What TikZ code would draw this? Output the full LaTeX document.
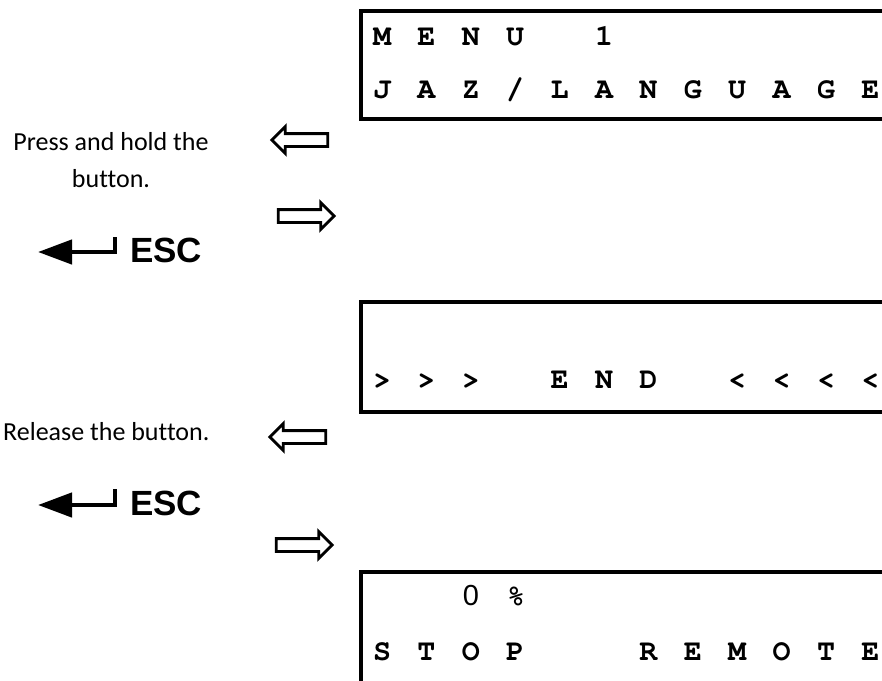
\documentclass[tikz,border=0pt]{standalone}
\usepackage{fontspec}
\setmainfont{Carlito}[Ligatures=NoCommon]
\newfontfamily\lcdfont{TeX Gyre Cursor}
\newfontfamily\keyfont{Liberation Sans}
\usetikzlibrary{shapes.arrows,arrows.meta}

\tikzset{
  lcd/.style={anchor=base,inner sep=0pt,font=\lcdfont\bfseries\fontsize{30}{30}\selectfont},
  frame/.style={line width=4pt,line join=miter},
  note/.style={anchor=base,inner sep=0pt,font=\fontsize{26}{30}\selectfont},
  esc/.style={anchor=base west,inner sep=0pt,font=\keyfont\bfseries\fontsize{35}{36}\selectfont},
  enterkey/.style={line width=4.5pt,line join=miter,-{Triangle[length=34pt,width=24pt]}},
  hollow/.style={single arrow,draw,fill=white,line width=2.8pt,inner xsep=0pt,inner ysep=5pt,
    single arrow head extend=7pt,minimum height=56pt}
}

\begin{document}
\begin{tikzpicture}[x=1pt,y=-1pt]
  \useasboundingbox (0,0) rectangle (882,680);

  % display 1
  \draw[frame](886,11) -- (361,11) -- (361,119) -- (886,119);
  \foreach \c [count=\i from 0] in {M,E,N,U, ,1}
    \node[lcd] (a\i) at (382+44.4*\i,45) {\c};
  \foreach \c [count=\i from 0] in {J,A,Z,/,L,A,N,G,U,A,G,E}
    \node[lcd] (b\i) at (382+44.4*\i,98) {\c};

  % display 2
  \draw[frame](886,302) -- (361,302) -- (361,412) -- (886,412);
  \foreach \c [count=\i from 0] in {>,>,>, ,E,N,D, ,<,<,<,<}
    \node[lcd] (c\i) at (382+44.4*\i,388) {\c};

  % display 3
  \draw[frame](886,572) -- (361,572) -- (361,684);
  \node[lcd,font=\keyfont\fontsize{29}{30}\selectfont] (d2) at (471,605) {0};
  \node[lcd] (d3) at (516,605) {\%};
  \foreach \c [count=\i from 0] in {S,T,O,P, , ,R,E,M,O,T,E}
    \node[lcd] (e\i) at (382+44.4*\i,660) {\c};

  % hints
  \node[note] (press) at (111,150) {Press and hold the};
  \node[note] (button) at (111,187) {button.};
  \node[note,anchor=base west] (release) at (3,440) {Release the button.};

  % escape keys
  \node[esc] (esc1) at (130,262) {ESC};
  \draw[enterkey](115,237) -- (115,252) -- (38,252);
  \node[esc] (esc2) at (130,515) {ESC};
  \draw[enterkey](115,489) -- (115,505) -- (38,505);

  % arrows
  \node[hollow,shape border rotate=180] (back1) at (303,140) {};
  \node[hollow] (next1) at (303,216) {};
  \node[hollow,shape border rotate=180] (back2) at (301,437) {};
  \node[hollow] (next2) at (301,545) {};

\end{tikzpicture}
\end{document}
